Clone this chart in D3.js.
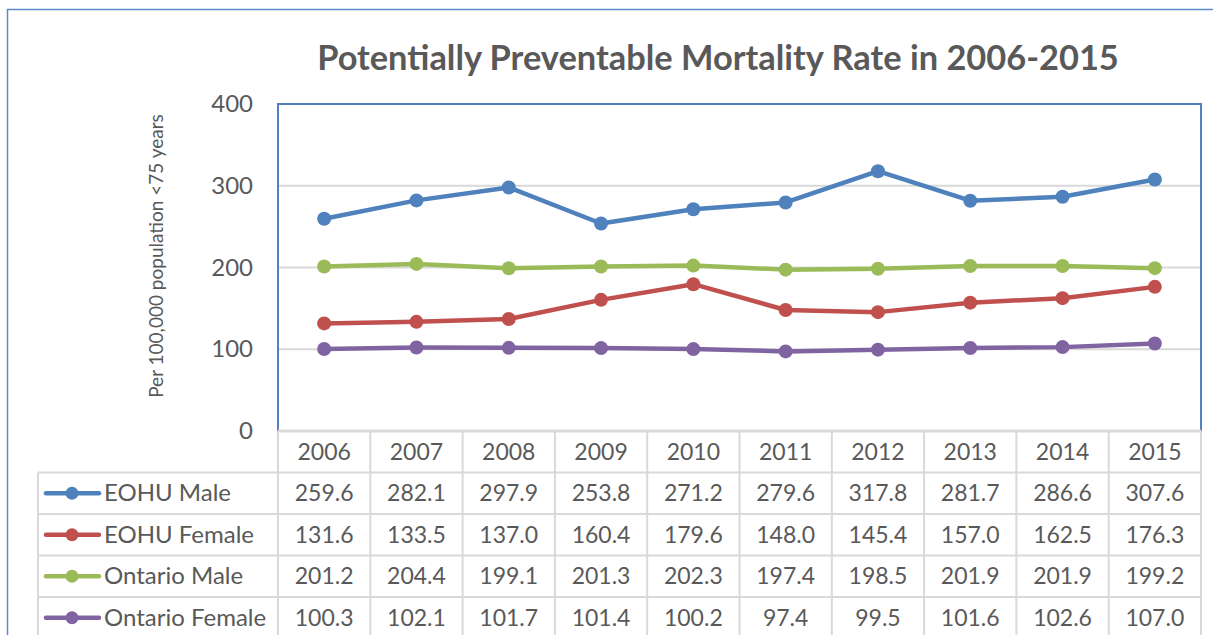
<!DOCTYPE html>
<html>
<head>
<meta charset="utf-8">
<script src="https://cdn.jsdelivr.net/npm/d3@7"></script>
<style>
  body { margin: 0; background: #fff; }
  text { font-family: Lato, "Open Sans", sans-serif; fill: #595959; }
</style>
</head>
<body>
<svg></svg>
<script>
// chart values
const years = ['2006', '2007', '2008', '2009', '2010', '2011', '2012', '2013', '2014', '2015'];
const seriesNames = ['EOHU Male', 'EOHU Female', 'Ontario Male', 'Ontario Female'];
const eohuMale = [259.6, 282.1, 297.9, 253.8, 271.2, 279.6, 317.8, 281.7, 286.6, 307.6];
const eohuFemale = [131.6, 133.5, 137.0, 160.4, 179.6, 148.0, 145.4, 157.0, 162.5, 176.3];
const ontarioMale = [201.2, 204.4, 199.1, 201.3, 202.3, 197.4, 198.5, 201.9, 201.9, 199.2];
const ontarioFemale = [100.3, 102.1, 101.7, 101.4, 100.2, 97.4, 99.5, 101.6, 102.6, 107.0];
const yTicks = [0, 100, 200, 300, 400];
const colors = ['#4f81bd', '#c0504d', '#9bbb59', '#8064a2'];

const seriesValues = [eohuMale, eohuFemale, ontarioMale, ontarioFemale];

const size = {w: 1213, h: 635};
const plot = {l: 278, r: 1201, t: 104, b: 431};
const rowH = 41.5;
const gridColor = '#d9d9d9';
const cellFont = '23px';

const svg = d3.select('svg')
    .attr('width', size.w)
    .attr('height', size.h);

// outer chart border (runs off the right and bottom of the picture)
svg.append('rect')
    .attr('x', 7.5).attr('y', 9.5)
    .attr('width', 1230).attr('height', 660)
    .attr('fill', 'none')
    .attr('stroke', '#5b8ccc')
    .attr('stroke-width', 1.5);

let x = d3.scaleBand().domain(years).range([plot.l, plot.r]);
let y = d3.scaleLinear().domain([0, 400]).range([plot.b, plot.t]);

// title
svg.append('text')
    .attr('x', 718).attr('y', 70)
    .attr('text-anchor', 'middle')
    .style('font-size', '34.4px')
    .style('font-weight', 'bold')
    .text('Potentially Preventable Mortality Rate in 2006-2015');

// gridlines
svg.append('g').selectAll('line')
    .data(yTicks.filter(d => d > 0 && d < 400))
    .enter().append('line')
    .attr('x1', plot.l).attr('x2', plot.r)
    .attr('y1', d => y(d)).attr('y2', d => y(d))
    .attr('stroke', gridColor).attr('stroke-width', 2);

// y axis
let yAxis = svg.append('g')
    .attr('transform', `translate(${plot.l - 25},0)`)
    .call(d3.axisLeft(y).tickValues(yTicks).tickSize(0).tickPadding(0));
yAxis.select('.domain').remove();
yAxis.selectAll('text')
    .style('font-size', '24px')
    .attr('fill', '#595959');

svg.append('text')
    .attr('transform', `translate(163,256) rotate(-90)`)
    .attr('text-anchor', 'middle')
    .style('font-size', '19px')
    .text('Per 100,000 population <75 years');

// plot area border: blue on left, top, right
svg.append('path')
    .attr('d', `M${plot.l},${plot.b} V${plot.t} H${plot.r} V${plot.b}`)
    .attr('fill', 'none')
    .attr('stroke', '#4f81bd')
    .attr('stroke-width', 2);

// data table
let table = svg.append('g');
let tableLeft = 38;
let tableBottom = plot.b + rowH * 5 + 10;

// horizontal lines
table.append('line')
    .attr('x1', plot.l).attr('x2', plot.r)
    .attr('y1', plot.b).attr('y2', plot.b)
    .attr('stroke', gridColor).attr('stroke-width', 3);
d3.range(1, 5).forEach(function (i) {
    table.append('line')
        .attr('x1', tableLeft).attr('x2', plot.r)
        .attr('y1', plot.b + rowH * i).attr('y2', plot.b + rowH * i)
        .attr('stroke', gridColor).attr('stroke-width', 2);
});

// vertical lines
table.append('line')
    .attr('x1', tableLeft).attr('x2', tableLeft)
    .attr('y1', plot.b + rowH).attr('y2', tableBottom)
    .attr('stroke', gridColor).attr('stroke-width', 2);
years.forEach(function (yr) {
    table.append('line')
        .attr('x1', x(yr)).attr('x2', x(yr))
        .attr('y1', plot.b).attr('y2', tableBottom)
        .attr('stroke', gridColor).attr('stroke-width', 2);
});
table.append('line')
    .attr('x1', plot.r).attr('x2', plot.r)
    .attr('y1', plot.b).attr('y2', tableBottom)
    .attr('stroke', gridColor).attr('stroke-width', 2);

// year header
table.selectAll('.yr')
    .data(years)
    .enter().append('text')
    .attr('x', d => x(d) + x.bandwidth() / 2)
    .attr('y', plot.b + rowH / 2 + 8)
    .attr('text-anchor', 'middle')
    .style('font-size', cellFont)
    .text(d => d);

// series rows
seriesValues.forEach(function (vals, i) {
    let rowY = plot.b + rowH * (i + 1);
    let midY = rowY + rowH / 2;

    // legend key
    table.append('line')
        .attr('x1', 46).attr('x2', 99)
        .attr('y1', midY).attr('y2', midY)
        .attr('stroke', colors[i]).attr('stroke-width', 4.5)
        .attr('stroke-linecap', 'round');
    table.append('circle')
        .attr('cx', 72).attr('cy', midY).attr('r', 6.5)
        .attr('fill', colors[i]);
    table.append('text')
        .attr('x', 104).attr('y', midY + 8)
        .style('font-size', '24px')
        .text(seriesNames[i]);

    table.selectAll('.v' + i)
        .data(vals)
        .enter().append('text')
        .attr('x', (d, j) => x(years[j]) + x.bandwidth() / 2)
        .attr('y', midY + 8)
        .attr('text-anchor', 'middle')
        .style('font-size', cellFont)
        .text(d => d3.format('.1f')(d));
});

// lines and markers
let line = d3.line()
    .x((d, j) => x(years[j]) + x.bandwidth() / 2)
    .y(d => y(d));

seriesValues.forEach(function (vals, i) {
    let g = svg.append('g');
    g.append('path')
        .attr('d', line(vals))
        .attr('fill', 'none')
        .attr('stroke', colors[i])
        .attr('stroke-width', 4.5)
        .attr('stroke-linejoin', 'round');
    g.selectAll('circle')
        .data(vals)
        .enter().append('circle')
        .attr('cx', (d, j) => x(years[j]) + x.bandwidth() / 2)
        .attr('cy', d => y(d))
        .attr('r', 7)
        .attr('fill', colors[i]);
});
</script>
</body>
</html>
